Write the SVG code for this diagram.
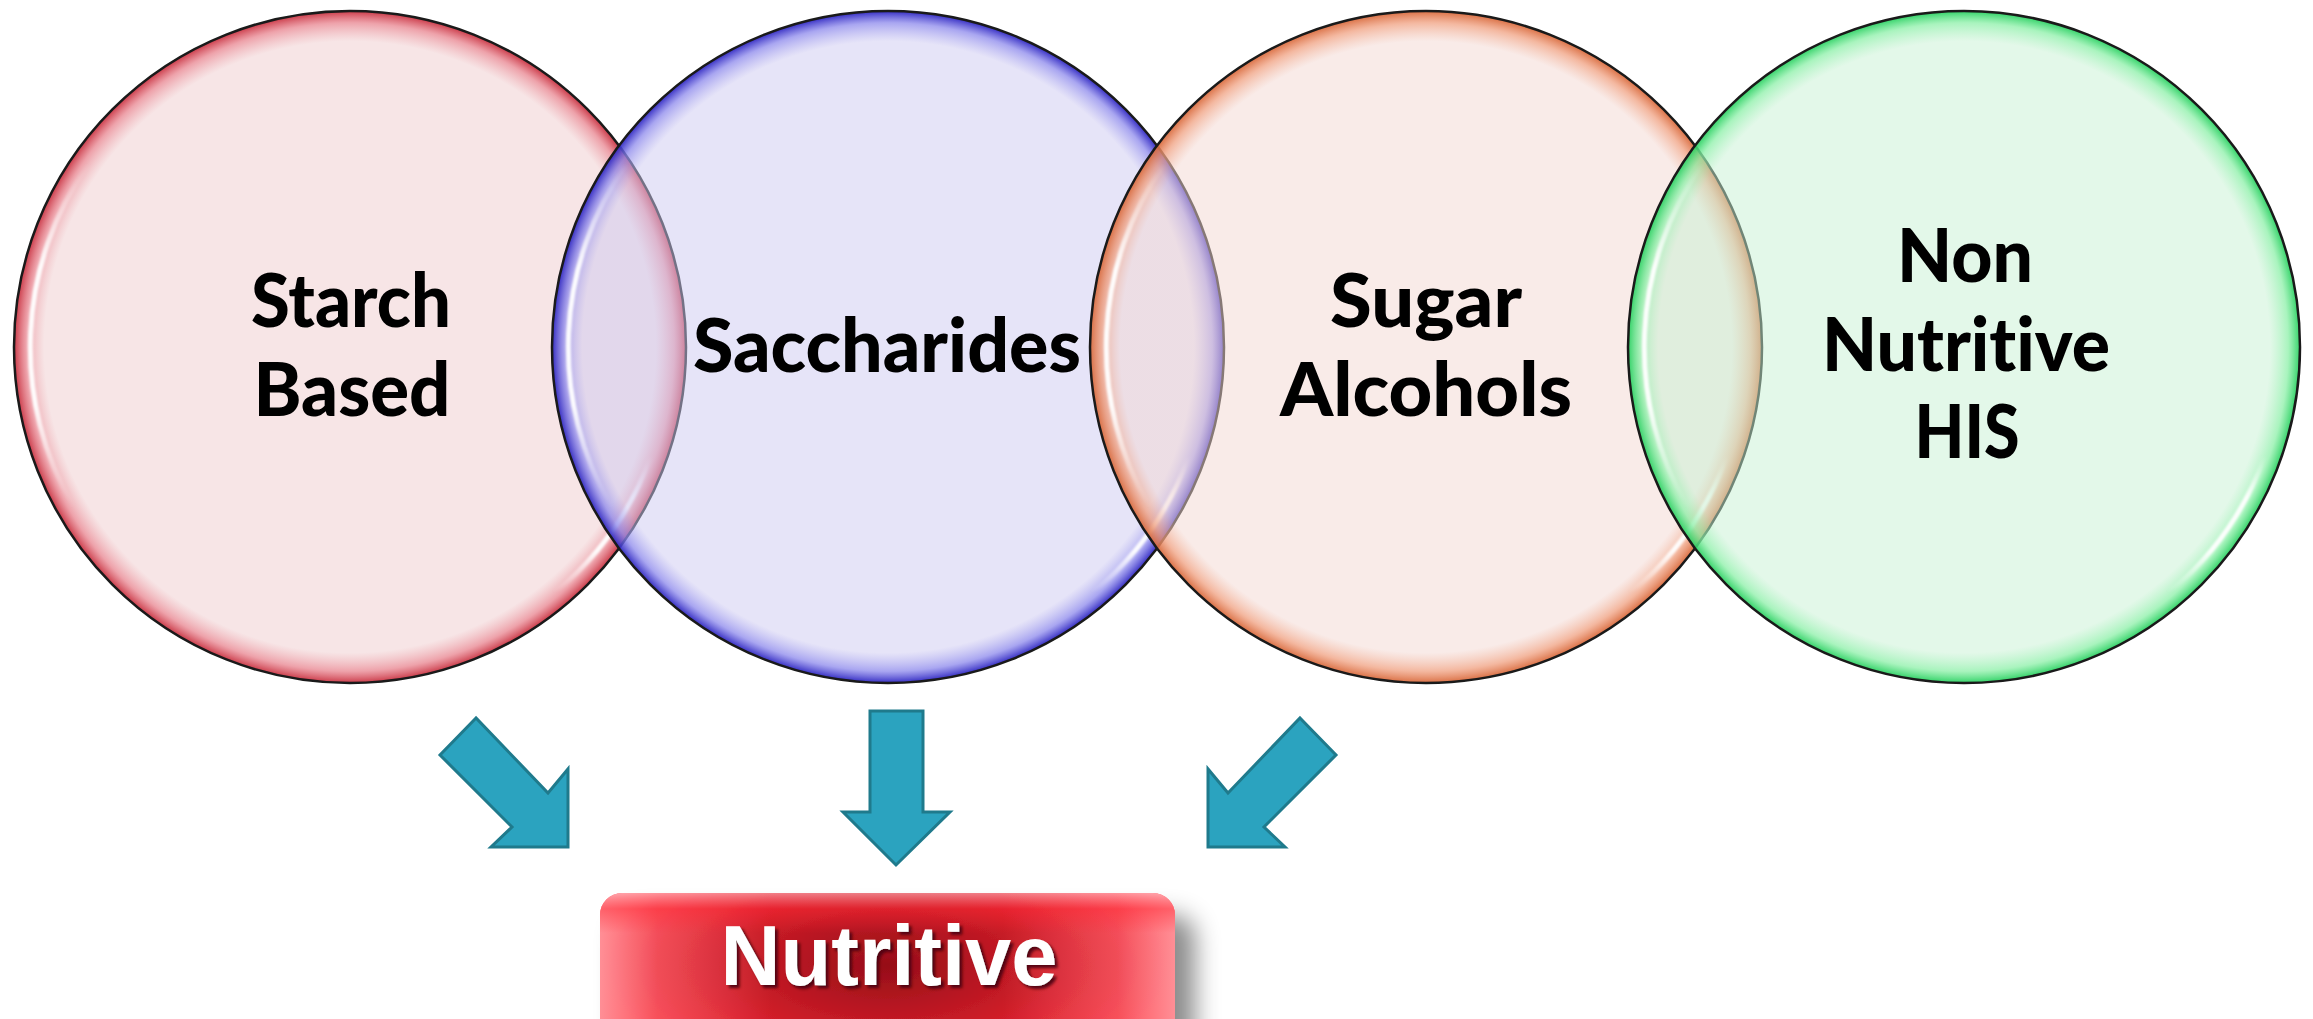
<svg xmlns="http://www.w3.org/2000/svg" width="2313" height="1019" viewBox="0 0 2313 1019">
<defs>
<style>
.lbl{font-family:Lato,"DejaVu Sans",sans-serif;font-weight:900;font-size:74px;fill:#000;text-anchor:middle;font-variant-ligatures:none;font-feature-settings:"liga" 0,"clig" 0}
.ring{stroke:#1a1a1a;stroke-width:2.5}
.arrow{fill:#2ba3bf;stroke:#1f7a8c;stroke-width:3;stroke-linejoin:miter}
.hl{fill:none;stroke:url(#hlg);stroke-width:5;stroke-linecap:round;filter:url(#soft)}
</style>
<radialGradient id="gRed" cx="0.5" cy="0.5" r="0.5">
<stop offset="0" stop-color="#efcbcd" stop-opacity="0.5"/>
<stop offset="0.91" stop-color="#efcbcd" stop-opacity="0.5"/>
<stop offset="0.965" stop-color="#e8838e" stop-opacity="0.75"/>
<stop offset="1" stop-color="#c8303f" stop-opacity="0.95"/>
</radialGradient>
<radialGradient id="gBlue" cx="0.5" cy="0.5" r="0.5">
<stop offset="0" stop-color="#cdc9f1" stop-opacity="0.5"/>
<stop offset="0.91" stop-color="#cdc9f1" stop-opacity="0.5"/>
<stop offset="0.965" stop-color="#8c88ec" stop-opacity="0.75"/>
<stop offset="1" stop-color="#2a22c0" stop-opacity="0.95"/>
</radialGradient>
<radialGradient id="gOrange" cx="0.5" cy="0.5" r="0.5">
<stop offset="0" stop-color="#f3d7d1" stop-opacity="0.5"/>
<stop offset="0.91" stop-color="#f3d7d1" stop-opacity="0.5"/>
<stop offset="0.965" stop-color="#f0a080" stop-opacity="0.75"/>
<stop offset="1" stop-color="#d8683a" stop-opacity="0.95"/>
</radialGradient>
<radialGradient id="gGreen" cx="0.5" cy="0.5" r="0.5">
<stop offset="0" stop-color="#c7f1d3" stop-opacity="0.5"/>
<stop offset="0.91" stop-color="#c7f1d3" stop-opacity="0.5"/>
<stop offset="0.965" stop-color="#8cf0a8" stop-opacity="0.75"/>
<stop offset="1" stop-color="#28d060" stop-opacity="0.95"/>
</radialGradient>
<linearGradient id="hlg" x1="0" y1="0" x2="0" y2="1">
<stop offset="0" stop-color="#fff" stop-opacity="0"/>
<stop offset="0.3" stop-color="#fff" stop-opacity="0.95"/>
<stop offset="0.7" stop-color="#fff" stop-opacity="0.95"/>
<stop offset="1" stop-color="#fff" stop-opacity="0"/>
</linearGradient>
<filter id="soft" x="-20%" y="-20%" width="140%" height="140%">
<feGaussianBlur stdDeviation="1.2"/>
</filter>
<radialGradient id="boxCore" cx="0.5" cy="0.45" r="0.5" gradientTransform="translate(0.5 0.45) scale(1 1.6) translate(-0.5 -0.45)">
<stop offset="0" stop-color="#960e18"/>
<stop offset="0.45" stop-color="#c41a25"/>
<stop offset="0.8" stop-color="#ea222f"/>
<stop offset="1" stop-color="#ff2a36"/>
</radialGradient>
<linearGradient id="boxSide" x1="0" y1="0" x2="1" y2="0">
<stop offset="0" stop-color="#ffb0b6" stop-opacity="0.75"/>
<stop offset="0.1" stop-color="#ffb0b6" stop-opacity="0.3"/>
<stop offset="0.3" stop-color="#ffb0b6" stop-opacity="0"/>
<stop offset="0.7" stop-color="#ffb0b6" stop-opacity="0"/>
<stop offset="0.9" stop-color="#ffb0b6" stop-opacity="0.3"/>
<stop offset="1" stop-color="#ffb0b6" stop-opacity="0.75"/>
</linearGradient>
<linearGradient id="boxTop" x1="0" y1="0" x2="0" y2="1">
<stop offset="0" stop-color="#ffc0c6" stop-opacity="0.6"/>
<stop offset="0.1" stop-color="#ff2a36" stop-opacity="0.45"/>
<stop offset="0.25" stop-color="#ff2a36" stop-opacity="0"/>
<stop offset="1" stop-color="#ff2a36" stop-opacity="0"/>
</linearGradient>
<filter id="boxShadow" x="-10%" y="-30%" width="130%" height="170%">
<feDropShadow dx="20" dy="22" stdDeviation="12" flood-color="#000" flood-opacity="0.45"/>
</filter>
<filter id="txtShadow" x="-10%" y="-20%" width="120%" height="150%">
<feDropShadow dx="3" dy="3" stdDeviation="1.5" flood-color="#4a060c" flood-opacity="0.9"/>
</filter>
</defs>
<rect width="2313" height="1019" fill="#fff"/>

<g id="node-starch-based">
<circle class="ring" cx="350" cy="347" r="336" fill="url(#gRed)"/>
<path class="hl" d="M 88 164 A 320 320 0 0 0 73 507"/>
<path class="hl" d="M 651 456 A 320 320 0 0 1 556 592"/>
<text class="lbl" x="351" y="327" textLength="200" lengthAdjust="spacingAndGlyphs">Starch</text>
<text class="lbl" x="352" y="416" textLength="197" lengthAdjust="spacingAndGlyphs">Based</text>
</g>

<g id="node-saccharides">
<circle class="ring" cx="888" cy="347" r="336" fill="url(#gBlue)"/>
<path class="hl" d="M 626 164 A 320 320 0 0 0 611 507"/>
<path class="hl" d="M 1189 456 A 320 320 0 0 1 1094 592"/>
<text class="lbl" x="887" y="372" textLength="388" lengthAdjust="spacingAndGlyphs">Saccharides</text>
</g>

<g id="node-sugar-alcohols">
<circle class="ring" cx="1426" cy="347" r="336" fill="url(#gOrange)"/>
<path class="hl" d="M 1164 164 A 320 320 0 0 0 1149 507"/>
<path class="hl" d="M 1727 456 A 320 320 0 0 1 1632 592"/>
<text class="lbl" x="1426" y="327" textLength="192" lengthAdjust="spacingAndGlyphs">Sugar</text>
<text class="lbl" x="1426" y="416" textLength="292" lengthAdjust="spacingAndGlyphs">Alcohols</text>
</g>

<g id="node-non-nutritive">
<circle class="ring" cx="1964" cy="347" r="336" fill="url(#gGreen)"/>
<path class="hl" d="M 1702 164 A 320 320 0 0 0 1687 507"/>
<path class="hl" d="M 2265 456 A 320 320 0 0 1 2170 592"/>
<text class="lbl" x="1965" y="282" textLength="136" lengthAdjust="spacingAndGlyphs">Non</text>
<text class="lbl" x="1966" y="371" textLength="288" lengthAdjust="spacingAndGlyphs">Nutritive</text>
<text class="lbl" x="1967" y="458" textLength="105" lengthAdjust="spacingAndGlyphs">HIS</text>
</g>

<g id="connectors">
<polygon class="arrow" points="476,718 440,755 512,827 491,847 568,847 568,769 548,793"/>
<polygon class="arrow" points="870,711 923,711 923,812 950,812 896,865 843,812 870,812"/>
<polygon class="arrow" points="1300,718 1336,755 1264,827 1285,847 1208,847 1208,769 1228,793"/>
</g>

<g id="node-nutritive">
<g filter="url(#boxShadow)">
<rect x="600" y="893" width="575" height="160" rx="22" ry="22" fill="url(#boxCore)"/>
</g>
<rect x="600" y="893" width="575" height="160" rx="22" ry="22" fill="url(#boxSide)"/>
<rect x="600" y="893" width="575" height="160" rx="22" ry="22" fill="url(#boxTop)"/>
<text x="889" y="985" font-family="'Liberation Sans',Arial,sans-serif" font-weight="700" font-size="86" fill="#fff" text-anchor="middle" textLength="337" lengthAdjust="spacingAndGlyphs" filter="url(#txtShadow)">Nutritive</text>
</g>
</svg>
